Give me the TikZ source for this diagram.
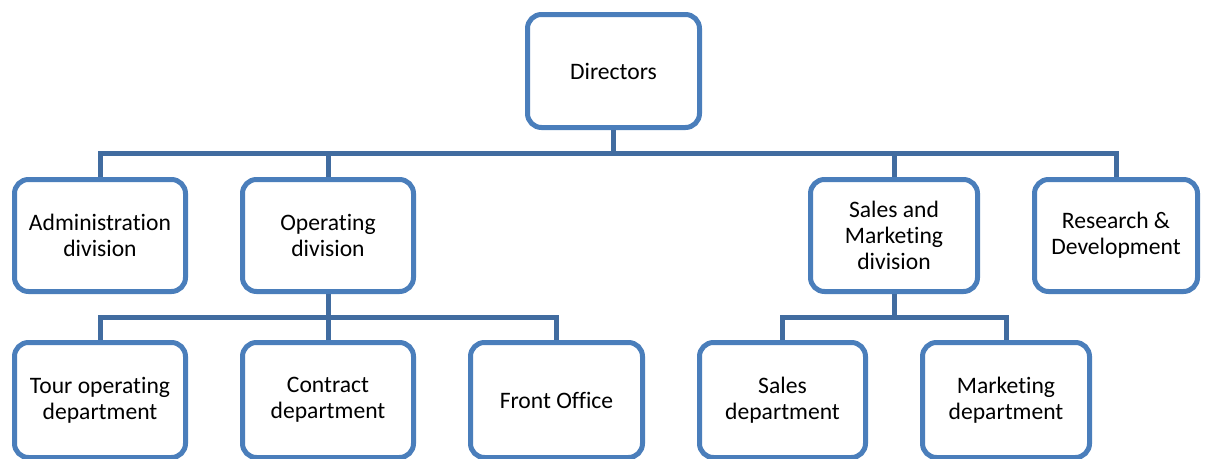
\documentclass[tikz,border=0pt]{standalone}
\usepackage{fontspec}
\setmainfont[RawFeature=-liga]{Carlito}
\definecolor{boxline}{RGB}{74,126,187}
\definecolor{linkline}{RGB}{65,108,160}
\begin{document}
\begin{tikzpicture}[x=1pt,y=-1pt,
  orgbox/.style={draw=boxline, line width=5pt, fill=white, rounded corners=14pt,
    align=center, inner sep=0pt, font=\fontsize{23.6}{26}\selectfont},
  link/.style={draw=linkline, line width=5pt, line join=miter}]
\useasboundingbox (0,0) rectangle (1215,458);
\clip (0,0) rectangle (1215,458);

% top level
\node[orgbox, minimum width=172pt, minimum height=113pt] (dir) at (613.5,71) {Directors};

% divisions
\node[orgbox, minimum width=171pt, minimum height=112pt] (adm) at (100,235.5) {Administration\\division};
\node[orgbox, minimum width=171pt, minimum height=112pt] (ops) at (328,235.5) {Operating\\division};
\node[orgbox, minimum width=167pt, minimum height=112pt] (sam) at (894,235.5) {Sales and\\Marketing\\division};
\node[orgbox, minimum width=163pt, minimum height=112pt] (rnd) at (1116,235.5) {Research \&\\Development};

% departments (their lower edges run to the foot of the page)
\node[orgbox, minimum width=171pt, minimum height=115pt] (tour) at (100,400) {Tour operating\\department};
\node[orgbox, minimum width=171pt, minimum height=115pt] (con) at (328,400) {Contract\\department};
\node[orgbox, minimum width=172pt, minimum height=115pt] (fro) at (556.5,400) {Front Office};
\node[orgbox, minimum width=166pt, minimum height=115pt] (sal) at (782.5,400) {Sales\\department};
\node[orgbox, minimum width=167pt, minimum height=115pt] (mar) at (1006,400) {Marketing\\department};

% bus levels
\coordinate (busA) at (0,153);
\coordinate (busB) at (0,317);

% connectors
\foreach \c in {adm,ops,sam,rnd}
  \draw[link] (dir.south) -- (dir.south |- busA) -| (\c.north);
\foreach \c in {tour,con,fro}
  \draw[link] (ops.south) -- (ops.south |- busB) -| (\c.north);
\foreach \c in {sal,mar}
  \draw[link] (sam.south) -- (sam.south |- busB) -| (\c.north);
\end{tikzpicture}
\end{document}
